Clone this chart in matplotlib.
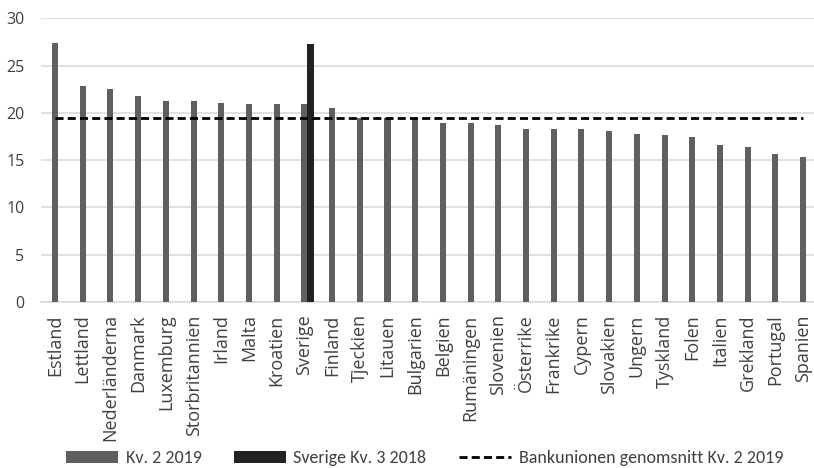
import matplotlib.pyplot as plt
import numpy as np

# Länder och värden (procent)
lander = ['Estland', 'Lettland', 'Nederländerna', 'Danmark', 'Luxemburg', 'Storbritannien',
          'Irland', 'Malta', 'Kroatien', 'Sverige', 'Finland', 'Tjeckien', 'Litauen',
          'Bulgarien', 'Belgien', 'Rumäningen', 'Slovenien', 'Österrike', 'Frankrike',
          'Cypern', 'Slovakien', 'Ungern', 'Tyskland', 'Folen', 'Italien', 'Grekland',
          'Portugal', 'Spanien']
kv2_2019 = [27.4, 22.8, 22.5, 21.8, 21.2, 21.2, 21.0, 20.9, 20.9, 20.9, 20.5, 19.5, 19.5,
            19.4, 18.9, 18.9, 18.75, 18.25, 18.25, 18.25, 18.1, 17.75, 17.6, 17.4, 16.6,
            16.4, 15.6, 15.3]
sverige_kv3_2018 = 27.3
bankunionen_snitt = 19.45

grid_col = '#d9d9d9'
text_col = '#404040'

fig = plt.figure(figsize=(8.14, 4.68), dpi=100)
ax = fig.add_axes([0.0506, 0.355, 0.953, 0.606])

x = np.arange(len(lander))
b1 = ax.bar(x, kv2_2019, width=0.22, color='#5f5f5f', label='Kv. 2 2019', zorder=3)
b2 = ax.bar(lander.index('Sverige') + 0.225, sverige_kv3_2018, width=0.23, color='#222222',
            label='Sverige Kv. 3 2018', zorder=3)
l1, = ax.plot(x, [bankunionen_snitt] * len(x), color='black', lw=2, linestyle=(0, (2.9, 1.5)),
              label='Bankunionen genomsnitt Kv. 2 2019', zorder=4)

ax.set_xlim(-0.5, len(lander) - 0.5)
ax.set_ylim(0, 30)
ax.set_yticks(range(0, 31, 5))
ax.yaxis.grid(True, color=grid_col, lw=1.1, zorder=0)
ax.set_axisbelow(True)
for s in ['top', 'right', 'left']:
    ax.spines[s].set_visible(False)
ax.spines['bottom'].set_color(grid_col)
ax.spines['bottom'].set_linewidth(1.1)

ax.set_xticks(x)
ax.set_xticklabels(lander, rotation=90, fontfamily='Open Sans', fontsize=13, color=text_col)
ax.tick_params(axis='x', length=0, pad=9)
ax.tick_params(axis='y', length=0, pad=12, labelsize=11.5, labelcolor=text_col)
for t in ax.get_yticklabels():
    t.set_fontfamily('Open Sans')

fig.legend(handles=[b1, b2, l1], loc='center', bbox_to_anchor=(0.5215, 0.021), ncol=3,
           frameon=False, prop={'family': 'Carlito', 'size': 13},
           labelcolor=text_col, handlelength=2.9, handleheight=0.65, handletextpad=0.4,
           columnspacing=1.8)

fig.savefig('out.png', dpi=100)
